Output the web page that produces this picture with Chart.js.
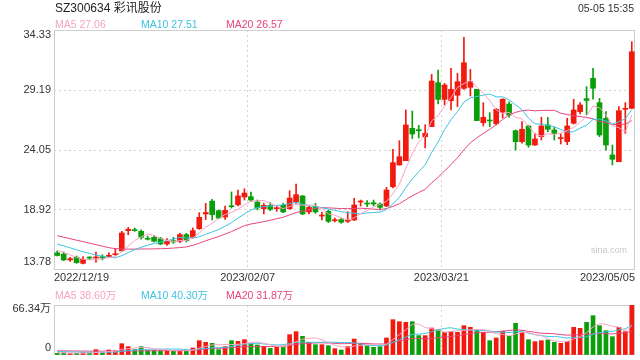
<!DOCTYPE html>
<html>
<head>
<meta charset="utf-8">
<script src="https://cdn.jsdelivr.net/npm/chart.js@4.4.0/dist/chart.umd.min.js"></script>
<style>
  body { margin: 0; background: #fff; }
  #wrap { position: relative; width: 640px; height: 360px; overflow: hidden;
          font-family: "Liberation Sans", Arial, "Noto Sans CJK SC", sans-serif; color: #222; }
  .txt { position: absolute; white-space: nowrap; }
  #kbox { position: absolute; left: 0; top: 0; width: 640px; height: 290px; }
  #vbox { position: absolute; left: 0; top: 290px; width: 640px; height: 70px; }
</style>
</head>
<body>
<div id="wrap">
  <div id="kbox"><canvas id="kChart"></canvas></div>
  <div id="vbox"><canvas id="vChart"></canvas></div>
  <div class="txt" style="left:55px;top:0;font-size:12px;line-height:16px;">SZ300634 彩讯股份</div>
  <div class="txt" style="right:6px;top:0;font-size:10.5px;line-height:16px;color:#333;">05-05 15:35</div>
  <div class="txt" style="right:13px;top:243px;font-size:9px;line-height:14px;color:#c8c8c8;">sina.com</div>
</div>
<script>
// tick labels
const xTickIndex = [0, 30, 60, 89];
const xTickLabels = ['2022/12/19', '2023/02/07', '2023/03/21', '2023/05/05'];
const yTickValues = [13.78, 18.92, 24.05, 29.19, 34.33];
const volTickValues = [0, 66.34];
const volTickLabels = ['0', '66.34万'];

// legend values
const maNames = ['MA5', 'MA10', 'MA20'];
const priceMaLast = ['27.06', '27.51', '26.57'];
const volMaLast = ['38.60万', '40.30万', '31.87万'];

// daily candles
const open = [
  15.25, 15.15, 14.64, 14.87, 14.35, 14.82, 14.81, 14.92, 14.92, 15.09,
  15.42, 17.15, 17.21, 17.09, 16.46, 16.58, 16.46, 16.01, 16.29, 16.24,
  16.81, 16.58, 17.32, 18.58, 19.68, 18.86, 18.32, 19.26, 19.36, 20.03,
  20.06, 19.60, 19.03, 19.32, 19.03, 19.32, 19.03, 19.60, 20.12, 18.75,
  19.20, 18.40, 18.80, 18.00, 18.10, 17.95, 18.06, 19.60, 19.49, 19.54,
  19.43, 19.26, 20.91, 22.77, 23.14, 25.91, 25.77, 25.20, 26.05, 29.82,
  28.39, 28.28, 28.74, 29.33, 29.42, 29.25, 26.39, 26.60, 26.30, 27.30,
  27.99, 25.71, 24.77, 26.11, 24.48, 25.20, 26.20, 25.77, 25.03, 24.77,
  26.34, 27.34, 28.45, 30.20, 28.11, 26.77, 23.63, 23.05, 27.54, 27.62
];
const high = [
  15.41, 15.32, 14.87, 14.98, 14.92, 14.92, 15.32, 15.09, 15.26, 15.61,
  17.09, 17.43, 17.38, 17.21, 16.69, 16.75, 16.58, 16.46, 16.58, 16.92,
  16.92, 17.38, 18.69, 19.49, 19.83, 18.92, 19.26, 20.46, 20.63, 20.74,
  20.46, 19.77, 19.49, 19.54, 19.32, 19.49, 20.57, 21.14, 20.17, 19.32,
  19.49, 18.75, 18.92, 18.23, 18.23, 18.77, 19.92, 19.77, 19.72, 19.77,
  19.54, 20.86, 24.11, 24.85, 27.48, 27.39, 26.17, 26.22, 30.53, 30.90,
  29.76, 31.05, 30.62, 33.70, 30.96, 29.25, 28.11, 27.25, 27.60, 28.45,
  28.19, 25.77, 26.48, 26.17, 25.48, 26.86, 26.86, 25.99, 25.43, 26.77,
  28.40, 28.11, 29.48, 31.05, 28.48, 27.34, 24.48, 27.77, 28.11, 33.33
];
const low = [
  14.98, 14.58, 14.52, 14.35, 14.29, 14.69, 14.46, 14.64, 14.87, 15.04,
  15.38, 16.80, 17.09, 16.41, 16.35, 16.18, 15.95, 15.89, 16.06, 16.12,
  16.18, 16.52, 17.26, 18.10, 18.06, 18.17, 18.12, 19.08, 19.26, 19.77,
  19.66, 18.92, 18.58, 18.86, 18.80, 18.69, 18.97, 19.49, 18.52, 18.58,
  18.63, 18.06, 17.83, 17.89, 17.78, 17.83, 18.03, 19.26, 19.20, 19.26,
  18.92, 19.20, 20.80, 22.77, 23.14, 25.03, 25.08, 24.23, 26.05, 28.00,
  27.91, 27.48, 27.76, 29.25, 28.68, 26.57, 26.11, 26.05, 26.20, 26.80,
  26.86, 24.05, 24.63, 24.29, 24.45, 24.91, 25.62, 24.91, 24.57, 24.51,
  26.28, 27.14, 27.10, 28.40, 25.20, 24.05, 22.77, 23.05, 25.48, 27.60
];
const close = [
  15.02, 14.64, 14.75, 14.41, 14.69, 14.80, 14.87, 14.81, 15.04, 15.15,
  16.95, 17.27, 17.15, 16.58, 16.41, 16.24, 16.01, 16.24, 16.18, 16.81,
  16.29, 17.15, 18.29, 18.70, 18.52, 18.23, 18.89, 19.20, 20.12, 20.37,
  19.77, 19.09, 19.32, 18.97, 19.09, 18.75, 19.94, 20.23, 18.58, 19.14,
  18.75, 18.46, 17.95, 18.06, 17.87, 18.00, 19.35, 19.66, 19.43, 19.43,
  19.14, 20.63, 22.97, 23.48, 26.20, 25.42, 25.71, 25.48, 29.96, 28.39,
  29.62, 29.25, 29.90, 31.53, 29.90, 26.57, 26.85, 26.54, 27.54, 28.40,
  27.05, 24.77, 25.83, 24.48, 25.00, 26.11, 25.83, 25.48, 25.10, 26.11,
  27.48, 27.91, 28.30, 29.34, 25.34, 24.48, 23.26, 27.42, 27.62, 32.47
];
// volume, 万
const volume = [
  2.2, 3.1, 1.8, 2.2, 3.1, 2.7, 7.1, 3.5, 6.6, 5.7,
  15.0, 11.1, 7.1, 11.1, 5.7, 6.2, 5.7, 5.3, 5.7, 5.7,
  6.2, 9.3, 19.0, 16.8, 15.5, 7.1, 11.1, 19.0, 18.1, 20.3,
  14.6, 13.3, 11.1, 8.8, 10.2, 11.1, 27.0, 31.0, 24.8, 16.8,
  13.7, 13.7, 12.4, 8.4, 6.6, 11.5, 21.2, 15.5, 12.4, 10.2,
  11.1, 22.6, 46.9, 44.2, 43.3, 44.2, 25.7, 25.7, 35.8, 33.6,
  30.1, 31.0, 30.1, 38.9, 36.7, 33.2, 30.1, 19.0, 22.6, 31.4,
  24.8, 42.0, 30.1, 20.3, 17.7, 19.0, 19.9, 16.8, 15.5, 18.1,
  36.7, 35.4, 43.3, 52.2, 38.9, 32.3, 24.3, 36.7, 31.0, 66.34
];

// moving averages
const ma5 = [
  15.45, 15.30, 15.08, 14.86, 14.70, 14.66, 14.70, 14.72, 14.84, 14.93,
  15.36, 15.84, 16.31, 16.62, 16.87, 16.73, 16.48, 16.30, 16.22, 16.30,
  16.31, 16.53, 16.94, 17.45, 17.79, 18.18, 18.53, 18.71, 18.99, 19.36,
  19.67, 19.71, 19.73, 19.50, 19.25, 19.04, 19.21, 19.40, 19.32, 19.33,
  19.33, 19.03, 18.58, 18.47, 18.22, 18.07, 18.25, 18.59, 18.86, 19.17,
  19.40, 19.66, 20.32, 21.13, 22.48, 23.74, 24.76, 25.26, 26.55, 26.99,
  27.83, 28.54, 29.42, 29.74, 30.04, 29.43, 28.95, 28.28, 27.48, 27.18,
  27.28, 26.86, 26.72, 26.11, 25.43, 25.24, 25.45, 25.38, 25.50, 25.73,
  26.00, 26.42, 26.98, 27.83, 27.67, 27.07, 26.14, 25.97, 25.62, 27.06
];
const ma10 = [
  16.00, 15.85, 15.68, 15.50, 15.35, 15.20, 15.06, 14.96, 14.88, 14.82,
  15.01, 15.27, 15.51, 15.73, 15.90, 16.05, 16.16, 16.30, 16.42, 16.58,
  16.52, 16.51, 16.62, 16.83, 17.04, 17.24, 17.53, 17.83, 18.22, 18.58,
  18.92, 19.12, 19.22, 19.25, 19.31, 19.36, 19.46, 19.57, 19.41, 19.29,
  19.19, 19.12, 18.99, 18.90, 18.77, 18.70, 18.64, 18.58, 18.67, 18.70,
  18.74, 18.95, 19.45, 20.00, 20.83, 21.57, 22.21, 22.79, 23.84, 24.74,
  25.79, 26.65, 27.34, 28.15, 28.52, 28.63, 28.75, 28.85, 28.61, 28.61,
  28.35, 27.91, 27.50, 26.79, 26.30, 26.26, 26.16, 26.05, 25.81, 25.58,
  25.62, 25.93, 26.18, 26.67, 26.70, 26.54, 26.28, 26.47, 26.73, 27.51
];
const ma20 = [
  16.72, 16.59, 16.46, 16.33, 16.21, 16.08, 15.95, 15.82, 15.69, 15.61,
  15.58, 15.57, 15.57, 15.58, 15.58, 15.59, 15.60, 15.62, 15.66, 15.70,
  15.76, 15.89, 16.07, 16.28, 16.47, 16.64, 16.85, 17.07, 17.32, 17.58,
  17.72, 17.81, 17.92, 18.04, 18.17, 18.30, 18.50, 18.70, 18.82, 18.93,
  19.06, 19.12, 19.10, 19.07, 19.04, 19.03, 19.05, 19.07, 19.04, 18.99,
  18.96, 19.04, 19.22, 19.45, 19.80, 20.13, 20.42, 20.69, 21.25, 21.72,
  22.26, 22.80, 23.40, 24.07, 24.67, 25.10, 25.48, 25.82, 26.23, 26.67,
  27.07, 27.28, 27.42, 27.47, 27.41, 27.44, 27.45, 27.45, 27.21, 27.09,
  26.99, 26.92, 26.84, 26.73, 26.50, 26.40, 26.22, 26.26, 26.27, 26.57
];
const vma5 = [
  3.2, 2.9, 2.6, 2.5, 2.48, 2.58, 3.38, 3.72, 4.60, 5.12,
  7.58, 8.38, 9.10, 10.00, 10.00, 8.24, 7.16, 6.80, 5.72, 5.72,
  5.72, 6.44, 9.18, 11.40, 13.36, 13.54, 13.90, 13.90, 14.16, 15.12,
  16.62, 17.06, 15.48, 13.62, 11.60, 10.90, 13.64, 17.62, 20.82, 22.14,
  22.66, 20.00, 16.28, 13.00, 10.96, 10.52, 12.02, 12.64, 13.44, 14.16,
  14.08, 14.36, 20.64, 27.00, 33.62, 40.24, 40.86, 36.62, 34.94, 33.00,
  30.18, 31.24, 32.12, 32.74, 33.36, 33.98, 33.80, 31.58, 28.32, 27.26,
  25.58, 27.96, 30.18, 29.72, 26.98, 25.82, 21.40, 18.74, 17.78, 17.86,
  21.40, 24.50, 29.80, 37.14, 41.30, 40.42, 38.20, 36.88, 32.64, 38.60
];
const vma10 = [
  4.5, 4.3, 4.1, 3.9, 3.7, 3.6, 3.6, 3.6, 3.7, 3.80,
  5.08, 5.88, 6.41, 7.30, 7.56, 7.91, 7.77, 7.95, 7.86, 7.86,
  6.98, 6.80, 7.99, 8.56, 9.54, 9.63, 10.17, 11.54, 12.78, 14.24,
  15.08, 15.48, 14.69, 13.89, 13.36, 13.76, 15.35, 16.55, 17.22, 16.87,
  16.78, 16.82, 16.95, 16.91, 16.55, 16.59, 16.01, 14.46, 13.22, 12.56,
  12.30, 13.19, 16.64, 20.22, 23.89, 27.16, 27.61, 28.63, 30.97, 33.31,
  35.21, 36.05, 34.37, 33.84, 33.18, 32.08, 32.52, 31.85, 30.53, 30.31,
  29.78, 30.88, 30.88, 29.02, 27.12, 25.70, 24.68, 24.46, 23.75, 22.42,
  23.61, 22.95, 24.27, 27.46, 29.58, 30.91, 31.35, 33.34, 34.89, 40.30
];
const vma20 = [
  5.6, 5.5, 5.4, 5.3, 5.2, 5.1, 5.1, 5.1, 5.0, 5.0,
  5.2, 5.3, 5.4, 5.5, 5.6, 5.7, 5.7, 5.8, 5.8, 5.83,
  6.03, 6.34, 7.20, 7.93, 8.55, 8.77, 8.97, 9.75, 10.32, 11.05,
  11.03, 11.14, 11.34, 11.23, 11.45, 11.70, 12.76, 14.05, 15.00, 15.56,
  15.93, 16.15, 15.82, 15.40, 14.96, 15.18, 15.68, 15.51, 15.22, 14.72,
  14.54, 15.01, 16.80, 18.57, 20.22, 21.88, 21.81, 21.55, 22.10, 22.94,
  23.76, 24.62, 25.51, 27.03, 28.54, 29.62, 30.07, 30.24, 30.75, 31.81,
  32.50, 33.47, 32.63, 31.43, 30.15, 28.89, 28.60, 28.16, 27.14, 26.37,
  26.70, 26.92, 27.58, 28.24, 28.35, 28.31, 28.02, 28.90, 29.32, 31.87
];

const RED = '#f2190e';
const GREEN = '#0a9f0a';
const MA_COLORS = ['#f7a3c1', '#3cc3e3', '#e8447b'];
const GRID = '#d2d2d2';
const FONT = '"Liberation Sans", Arial, "Noto Sans CJK SC", sans-serif';

const candleColor = close.map((c, i) => c >= open[i] ? RED : GREEN);
const pts = arr => arr.map((v, i) => ({ x: i, y: v }));

// legends as html text
const wrap = document.getElementById('wrap');
function addLegend(top, values) {
  const lefts = [55, 141, 226];
  maNames.forEach((name, k) => {
    const d = document.createElement('div');
    d.className = 'txt';
    d.style.cssText = 'left:' + lefts[k] + 'px;top:' + top + 'px;font-size:10.5px;line-height:14px;color:' + MA_COLORS[k];
    d.textContent = name + ' ' + values[k];
    wrap.appendChild(d);
  });
}
addLegend(17, priceMaLast);
addLegend(288, volMaLast);

// light box round the plot area
const boxPlugin = {
  id: 'box',
  beforeDatasetsDraw(chart) {
    const a = chart.chartArea, ctx = chart.ctx;
    ctx.save();
    ctx.strokeStyle = '#cfcfcf';
    ctx.lineWidth = 1;
    ctx.strokeRect(Math.round(a.left) + 0.5, Math.round(a.top) + 0.5,
                   Math.round(a.width) - 1, Math.round(a.height) - 1);
    ctx.restore();
  }
};

function endHidden(count) {
  return c => (c.index === 0 || c.index === count - 1) ? 'rgba(0,0,0,0)' : GRID;
}

function xScale(showLabels) {
  const n = xTickIndex.length;
  return {
    type: 'linear', min: -0.5, max: close.length - 0.5, bounds: 'data', offset: false,
    afterBuildTicks: ax => {
      ax.ticks = xTickIndex.map((idx, k) => ({
        value: k === 0 ? idx - 0.5 : (k === n - 1 ? idx + 0.5 : idx - 0.5)
      }));
    },
    afterFit: ax => {
      ax.height = showLabels ? 20 : 0;
      ax.paddingLeft = ax.paddingRight = 0;
    },
    ticks: {
      display: showLabels, autoSkip: false, maxRotation: 0, align: 'inner', padding: 1.5,
      color: '#333', font: { family: FONT, size: 11 },
      callback: (v, i) => xTickLabels[i]
    },
    grid: { color: endHidden(n), drawTicks: false, offset: false },
    border: { display: false, dash: [2, 3] }
  };
}

function yScale(min, max, values, labels, topLH, botLH) {
  const n = values.length;
  return {
    type: 'linear', position: 'left', min: min, max: max, bounds: 'data',
    afterBuildTicks: ax => { ax.ticks = values.map(v => ({ value: v })); },
    afterFit: ax => {
      ax.width = 54;
      ax.paddingTop = ax.paddingBottom = 0;
    },
    ticks: {
      padding: 3, color: '#333',
      font: c => ({ family: FONT, size: 11,
        lineHeight: c.index === 0 ? botLH : (c.index === n - 1 ? topLH : 1.2) }),
      callback: (v, i) => i === 0 ? [labels[i], ''] : (i === n - 1 ? ['', labels[i]] : labels[i])
    },
    grid: { color: endHidden(n), drawTicks: false },
    border: { display: false, dash: [2, 3] }
  };
}

function maLines(series, smooth) {
  return series.map((d, k) => ({
    type: 'line', data: pts(d), borderColor: MA_COLORS[k], borderWidth: 1,
    pointRadius: 0, tension: smooth ? 0.3 : 0, order: k
  }));
}

const common = {
  responsive: true, maintainAspectRatio: false, animation: false, events: [],
  plugins: { legend: { display: false }, tooltip: { enabled: false } }
};

new Chart(document.getElementById('kChart'), {
  type: 'bar',
  data: {
    datasets: [
      ...maLines([ma5, ma10, ma20], false),
      { type: 'bar', data: close.map((c, i) => ({ x: i, y: [open[i], c] })),
        backgroundColor: candleColor, borderWidth: 0, barThickness: 5, minBarLength: 1,
        grouped: false, order: 5 },
      { type: 'bar', data: high.map((h, i) => ({ x: i, y: [low[i], h] })),
        backgroundColor: candleColor, borderWidth: 0, barThickness: 1, minBarLength: 1,
        grouped: false, order: 6 }
    ]
  },
  options: Object.assign({}, common, {
    layout: { padding: { top: 30, right: 5, left: 0, bottom: 0 } },
    scales: {
      x: xScale(true),
      y: yScale(yTickValues[0], yTickValues[yTickValues.length - 1], yTickValues,
                yTickValues.map(v => v.toFixed(2)), '10px', '16px')
    }
  }),
  plugins: [boxPlugin]
});

new Chart(document.getElementById('vChart'), {
  type: 'bar',
  data: {
    datasets: [
      ...maLines([vma5, vma10, vma20], true),
      { type: 'bar', data: pts(volume), backgroundColor: candleColor, borderWidth: 0,
        barThickness: 4, grouped: false, order: 5 }
    ]
  },
  options: Object.assign({}, common, {
    layout: { padding: { top: 15, right: 5, left: 0, bottom: 5 } },
    scales: {
      x: xScale(false),
      y: yScale(volTickValues[0], volTickValues[1], volTickValues, volTickLabels, '8px', '14px')
    }
  }),
  plugins: [boxPlugin]
});
</script>
</body>
</html>
